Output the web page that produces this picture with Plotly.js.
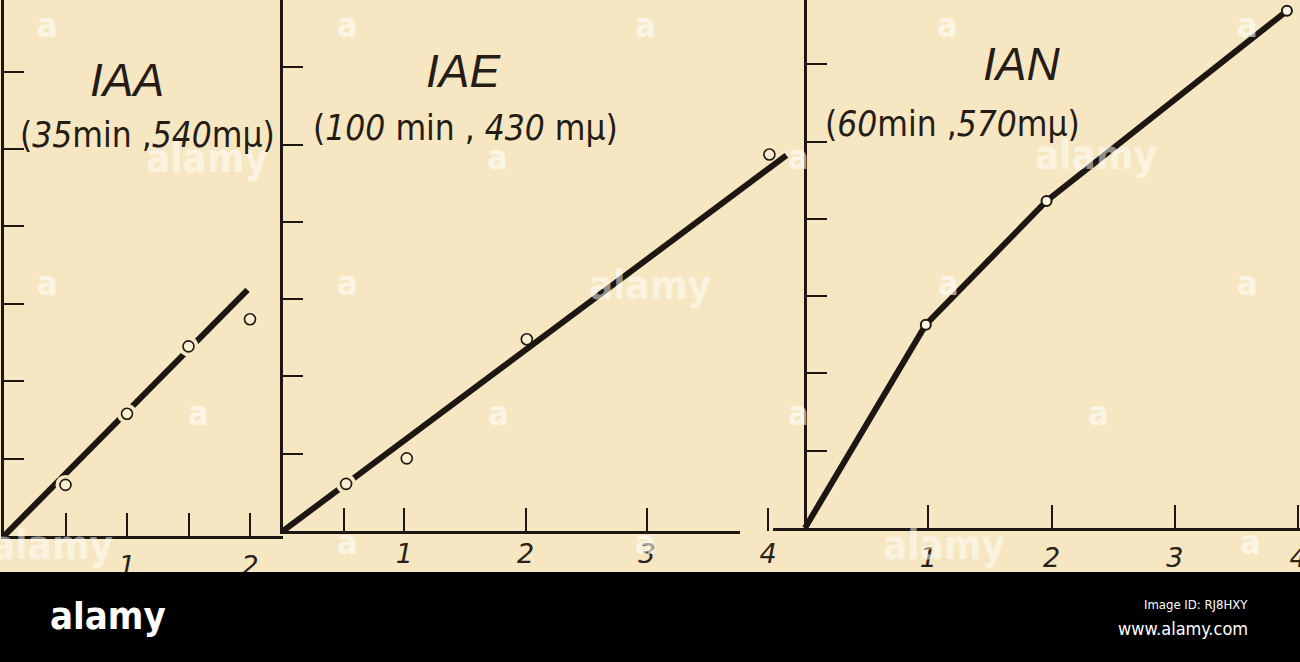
<!DOCTYPE html>
<html>
<head>
<meta charset="utf-8">
<script src="https://cdn.plot.ly/plotly-3.0.1.min.js"></script>
<style>
  html, body { margin: 0; padding: 0; background: #000; }
  #chart { width: 1300px; height: 662px; }
</style>
</head>
<body>
<div id="chart"></div>
<script>
// ---------- data (y in tick units) ----------
const iaaX = [0.5, 1, 1.5, 2];
const iaaY = [0.66, 1.58, 2.45, 2.80];
const iaaLineX = [0, 1.98];
const iaaLineY = [0, 3.18];

const iaeX = [0.52, 1.02, 2.01, 4.01];
const iaeY = [0.61, 0.94, 2.48, 4.87];
const iaeLineX = [0, 4.15];
const iaeLineY = [0, 4.86];

const ianX = [0, 0.98, 1.96, 3.91];
const ianY = [0, 2.63, 4.23, 6.69];

const yTicks = [1, 2, 3, 4, 5, 6, 7];
const iaaTicks = [0.5, 1, 1.5, 2];
const iaaTickText = ["", "1", "", "2"];
const iaeTicks = [0.5, 1, 2, 3, 4];
const iaeTickText = ["", "1", "2", "3", "4"];
const ianTicks = [1, 2, 3, 4];
const ianTickText = ["1", "2", "3", "4"];

const panelTitles = ["IAA", "IAE", "IAN"];
const panelSubs = [
  "(<i>35</i>min ,<i>540</i>mμ)",
  "(<i>100</i> min , <i>430</i> mμ)",
  "(<i>60</i>min ,<i>570</i>mμ)"
];

// ---------- styling ----------
const W = 1300, H = 662;
const BG = "rgb(246,231,194)";
const INK = "#1c1712";
const px = (x) => x / W;
const py = (y) => 1 - y / H;

const lineStyle = { color: INK, width: 6 };
const ptMarker = { symbol: "circle", size: 11, color: "rgb(249,238,208)", line: { color: INK, width: 1.6 } };
const halo = { symbol: "circle", size: 20, color: BG, line: { width: 0 } };

const traces = [
  // Panel 1: IAA
  { x: iaaLineX, y: iaaLineY, xaxis: "x", yaxis: "y", mode: "lines", line: lineStyle, hoverinfo: "skip" },
  { x: iaaX, y: iaaY, xaxis: "x", yaxis: "y", mode: "markers", marker: halo, hoverinfo: "skip" },
  { x: iaaX, y: iaaY, xaxis: "x", yaxis: "y", mode: "markers", marker: ptMarker },
  // Panel 2: IAE
  { x: iaeLineX, y: iaeLineY, xaxis: "x2", yaxis: "y2", mode: "lines", line: lineStyle, hoverinfo: "skip" },
  { x: iaeX.slice(0, 1), y: iaeY.slice(0, 1), xaxis: "x2", yaxis: "y2", mode: "markers", marker: halo, hoverinfo: "skip" },
  { x: iaeX, y: iaeY, xaxis: "x2", yaxis: "y2", mode: "markers", marker: ptMarker },
  // decorative axis line for panel 2 (empty trace just to create the subplot)
  { x: [], y: [], xaxis: "x4", yaxis: "y2", mode: "markers", hoverinfo: "skip" },
  // Panel 3: IAN
  { x: ianX, y: ianY, xaxis: "x3", yaxis: "y3", mode: "lines", line: lineStyle, hoverinfo: "skip" },
  { x: ianX.slice(1), y: ianY.slice(1), xaxis: "x3", yaxis: "y3", mode: "markers",
    marker: { symbol: "circle", size: 10, color: "rgb(252,246,228)", line: { color: INK, width: 2 } } }
];

const tickFont = { family: "DejaVu Sans, Liberation Sans, sans-serif", size: 27, color: "#2a221a", style: "italic" };

function xAxis(domain, range, anchor, tickvals, ticktext, showline) {
  return {
    domain: domain, range: range, anchor: anchor,
    showline: showline, linecolor: INK, linewidth: 3,
    showgrid: false, zeroline: false,
    ticks: "inside", ticklen: 23, tickwidth: 2, tickcolor: INK,
    tickmode: "array", tickvals: tickvals, ticktext: ticktext,
    tickfont: tickFont, ticklabelstandoff: 4, ticklabeloverflow: "allow",
    automargin: false, fixedrange: true
  };
}
function yAxis(domain, range, anchor) {
  return {
    domain: domain, range: range, anchor: anchor,
    showline: true, linecolor: INK, linewidth: 3,
    showgrid: false, zeroline: false,
    ticks: "inside", ticklen: 20, tickwidth: 2, tickcolor: INK,
    tickmode: "array", tickvals: yTicks, showticklabels: false,
    automargin: false, fixedrange: true
  };
}

// watermark annotations (faint white)
const wmA = [[47,25],[347,25],[645,25],[947,25],[1247,25],
             [497,157],[798,157],
             [47,283],[347,283],[948,283],[1247,283],
             [198,413],[498,413],[798,413],[1098,413],
             [347,542],[645,542],[1250,542]];
const wmLogo = [[207,158],[1096,155],[650,285],[52,545],[944,545]];

const annotations = [];
wmA.forEach(([x, y]) => annotations.push({
  text: "a", x: px(x), y: py(y), xref: "paper", yref: "paper", showarrow: false,
  xanchor: "center", yanchor: "middle",
  font: { family: "Liberation Sans Narrow, DejaVu Sans Condensed, sans-serif", size: 34, color: "rgba(255,255,255,0.6)", weight: "bold" }
}));
wmLogo.forEach(([x, y]) => annotations.push({
  text: "alamy", x: px(x), y: py(y), xref: "paper", yref: "paper", showarrow: false,
  xanchor: "center", yanchor: "middle",
  font: { family: "Liberation Sans Narrow, DejaVu Sans Condensed, sans-serif", size: 40, color: "rgba(255,255,255,0.5)", weight: "bold" }
}));

const titlePos = [[127, 80], [463, 71], [1021, 64]];
const subPos = [[147, 135], [465, 128], [952, 124]];
panelTitles.forEach((t, i) => {
  annotations.push({
    text: "<i>" + t + "</i>", x: px(titlePos[i][0]), y: py(titlePos[i][1]), xref: "paper", yref: "paper",
    showarrow: false, xanchor: "center", yanchor: "middle",
    font: { family: "Liberation Sans, Arial, sans-serif", size: 46, color: "#241c15" }
  });
  annotations.push({
    text: panelSubs[i], x: px(subPos[i][0]), y: py(subPos[i][1]), xref: "paper", yref: "paper",
    showarrow: false, xanchor: "center", yanchor: "middle",
    font: { family: "DejaVu Sans Condensed, Liberation Sans Narrow, sans-serif", size: 35, color: "#241c15" }
  });
});

// footer texts
annotations.push({
  text: "alamy", x: px(48), y: py(616), xref: "paper", yref: "paper", showarrow: false,
  xanchor: "left", yanchor: "middle",
  font: { family: "Liberation Sans Narrow, DejaVu Sans Condensed, sans-serif", size: 38, color: "#ffffff", weight: "bold" }
});
annotations.push({
  text: "Image ID: RJ8HXY", x: px(1250), y: py(604), xref: "paper", yref: "paper", showarrow: false,
  xanchor: "right", yanchor: "middle",
  font: { family: "Liberation Sans Narrow, DejaVu Sans Condensed, sans-serif", size: 13, color: "#ffffff" }
});
annotations.push({
  text: "www.alamy.com", x: px(1250), y: py(628), xref: "paper", yref: "paper", showarrow: false,
  xanchor: "right", yanchor: "middle",
  font: { family: "Liberation Sans Narrow, DejaVu Sans Condensed, sans-serif", size: 18, color: "#ffffff" }
});

const layout = {
  width: W, height: H, autosize: false,
  margin: { l: 0, r: 0, t: 0, b: 0, pad: 0 },
  paper_bgcolor: BG, plot_bgcolor: "rgba(0,0,0,0)",
  showlegend: false,
  xaxis: xAxis([px(4), px(283)], [0, 279 / 123], "y", iaaTicks, iaaTickText, true),
  yaxis: yAxis([1 - 536 / H, 1], [0, 536 / 77.4], "x"),
  xaxis2: xAxis([px(283), px(790)], [0, 507 / 121.3], "y2", iaeTicks, iaeTickText, false),
  yaxis2: yAxis([1 - 531 / H, 1], [0, 531 / 77.3], "x2"),
  xaxis4: {
    domain: [px(283), px(740)], range: [0, 1], anchor: "y2",
    showline: true, linecolor: INK, linewidth: 3, showgrid: false, zeroline: false,
    ticks: "", showticklabels: false, automargin: false, fixedrange: true
  },
  xaxis3: xAxis([px(773), 1], [(773 - 805) / 123.25, (1300 - 805) / 123.25], "y3", ianTicks, ianTickText, true),
  yaxis3: Object.assign(yAxis([1 - 528 / H, 1], [0, 528 / 77.3], "free"), { position: px(805) }),
  shapes: [
    { type: "rect", xref: "paper", yref: "paper", x0: 0, x1: 1, y0: 0, y1: 90 / H,
      fillcolor: "#000000", line: { width: 0 }, layer: "above" }
  ],
  annotations: annotations
};

Plotly.newPlot("chart", traces, layout, { displayModeBar: false, staticPlot: true });
</script>
</body>
</html>
